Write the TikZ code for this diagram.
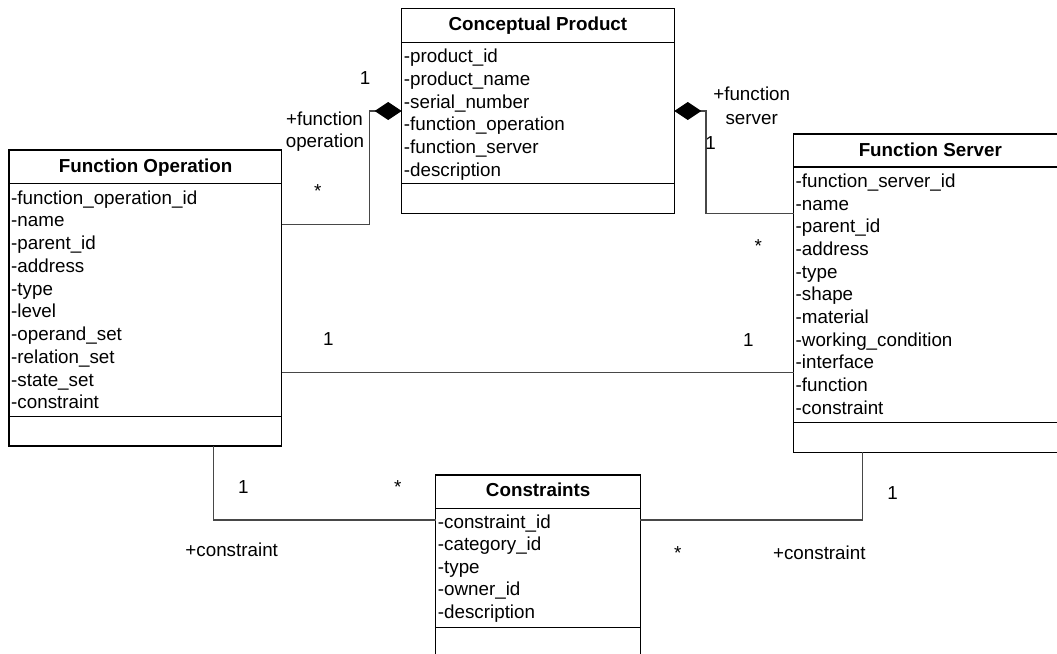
\documentclass[tikz,border=0pt]{standalone}
\usepackage{fontspec}
\setmainfont{Liberation Sans}
\usetikzlibrary{arrows.meta}
\begin{document}
\begin{tikzpicture}[x=1pt,y=-1pt,
  classbox/.style={draw=black, line width=1.1pt, inner sep=0pt, outer sep=0pt, anchor=north west},
  sepline/.style={draw=black, line width=1.5pt},
  title/.style={font=\fontsize{18.8}{22}\selectfont\bfseries, anchor=base, inner sep=0pt},
  attr/.style={font=\fontsize{18.8}{22}\selectfont, anchor=base west, inner sep=0pt},
  lbl/.style={font=\fontsize{18.8}{22}\selectfont, anchor=base, inner sep=0pt},
  conn/.style={draw=black!72, line width=1.1pt},
  comp/.style={conn, -{Diamond[length=27pt,width=18pt,color=black]}},
]
\useasboundingbox (0,0) rectangle (1057,653);
\clip (0,0) rectangle (1057,653);

% ---- class boxes ----
\node[classbox, minimum width=272.6pt, minimum height=205pt] (cp) at (401.7,8.3) {};
\node[classbox, minimum width=272.7pt, minimum height=296pt] (fo) at (9,150) {};
\node[classbox, minimum width=275pt, minimum height=318.3pt] (fs) at (793.5,134) {};
\node[classbox, minimum width=204.6pt, minimum height=181pt] (con) at (435.7,475) {};

% compartment separators
\foreach \b/\y in {cp/42.7, cp/183.3, fo/183.3, fo/416.7, fs/167, fs/422.3, con/508.3, con/627.3}
  \draw[sepline] (\b.west |- 0,\y) -- (\b.east |- 0,\y);

% ---- titles ----
\node[title] (cpt) at (537.9,30.7) {Conceptual Product};
\node[title] (fot) at (145.6,172.3) {Function Operation};
\node[title] (fst) at (930.3,156) {Function Server};
\node[title] (cont) at (538.2,496.7) {Constraints};

% ---- attributes ----
\foreach \t [count=\i from 0] in {-product\_id,-product\_name,-serial\_number,-function\_operation,-function\_server,-description}
  \node[attr] (cpa\i) at (403.7,62.7+22.7*\i) {\t};
\foreach \t [count=\i from 0] in {-function\_operation\_id,-name,-parent\_id,-address,-type,-level,-operand\_set,-relation\_set,-state\_set,-constraint}
  \node[attr] (foa\i) at (11,204+22.75*\i) {\t};
\foreach \t [count=\i from 0] in {-function\_server\_id,-name,-parent\_id,-address,-type,-shape,-material,-working\_condition,-interface,-function,-constraint}
  \node[attr] (fsa\i) at (795.5,187.3+22.7*\i) {\t};
\foreach \t [count=\i from 0] in {-constraint\_id,-category\_id,-type,-owner\_id,-description}
  \node[attr] (cona\i) at (437.7,528.3+22.5*\i) {\t};

% ---- connectors ----
\draw[comp] (fo.east |- 0,224.3) -| (369.3,111) -- (cp.west |- 0,111);
\draw[comp] (fs.west |- 0,213.3) -| (706,111) -- (cp.east |- 0,111);
\draw[conn] (fo.east |- 0,372.5) -- (fs.west |- 0,372.5);
\draw[conn] (fo.south -| 213.3,0) |- (con.west |- 0,520);
\draw[conn] (con.east |- 0,520) -| (fs.south -| 862.3,0);

% ---- role names and multiplicities ----
\node[lbl] (m1) at (365,84) {1};
\node[lbl] (r1a) at (324.5,125.7) {+function};
\node[lbl] (r1b) at (325,147.3) {operation};
\node[lbl] (m2) at (317.7,197.5) {*};
\node[lbl] (r2a) at (751.7,100.7) {+function};
\node[lbl] (r2b) at (751.7,124) {server};
\node[lbl] (m3) at (710.7,149.3) {1};
\node[lbl] (m4) at (758.3,252.5) {*};
\node[lbl] (m5) at (328.3,345) {1};
\node[lbl] (m6) at (748.3,346.7) {1};
\node[lbl] (m7) at (243.3,493.3) {1};
\node[lbl] (m8) at (397.7,493.6) {*};
\node[lbl] (r3) at (231.7,556.7) {+constraint};
\node[lbl] (m9) at (892.7,499) {1};
\node[lbl] (m10) at (677.7,559.2) {*};
\node[lbl] (r4) at (819.3,559.3) {+constraint};
\end{tikzpicture}
\end{document}
